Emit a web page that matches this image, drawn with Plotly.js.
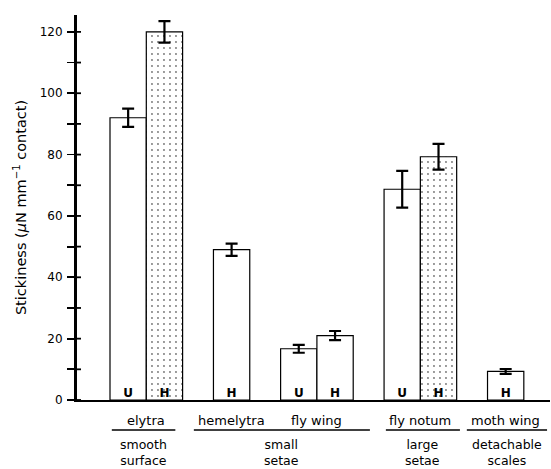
<!DOCTYPE html>
<html><head><meta charset="utf-8">
<script src="https://cdn.plot.ly/plotly-3.0.1.min.js"></script>
<style>html,body{margin:0;padding:0;background:#fff}</style>
</head><body><div id="chart" style="width:551px;height:469px"></div>
<script>
// ---- data ----
const barGroups = ["elytra", "hemelytra", "fly wing", "fly notum", "moth wing"];
const barTypes = ["U", "H", "H", "U", "H", "U", "H", "H"];
const barGroupOf = [0, 0, 1, 2, 2, 3, 3, 4];
const stickiness = [92, 120, 49, 16.7, 21, 68.7, 79.3, 9.3];
const stickinessErr = [3, 3.5, 2, 1.3, 1.5, 6, 4.2, 0.8];
const surfaceClasses = ["smooth<br>surface", "small<br>setae", "large<br>setae", "detachable<br>scales"];
const classMembers = [[0], [1, 2], [3], [4]];
const yTicks = [0, 20, 40, 60, 80, 100, 120];
const yMinorTicks = [10, 30, 50, 70, 90, 110];

// ---- layout helpers ----
const GAP = 0.85;
const xs = [];
const groupLeft = [], groupRight = [];
let pos = 0, prev = -1;
barGroupOf.forEach((g, i) => {
  if (prev !== -1 && g !== prev) pos += GAP;
  if (groupLeft[g] === undefined) groupLeft[g] = pos;
  xs.push(pos + 0.5);
  pos += 1;
  groupRight[g] = pos;
  prev = g;
});

const PLOT_TOP = 15, PLOT_BOTTOM = 400, PH = PLOT_BOTTOM - PLOT_TOP;
const py = p => -(p - PLOT_BOTTOM) / PH; // pixel below axis -> paper y

const font = "DejaVu Sans, Liberation Sans, sans-serif";
const stippled = [false, true, false, false, false, false, true, false];

const bars = {
  type: "bar",
  x: xs,
  y: stickiness,
  width: 1,
  marker: {
    color: "white",
    line: {color: "black", width: 1.2},
    pattern: {
      shape: stippled.map(s => s ? "." : ""),
      fgcolor: "#777",
      bgcolor: "white",
      size: 6,
      solidity: 0.08
    }
  },
  error_y: {type: "data", array: stickinessErr, visible: true, color: "black", thickness: 2.2, width: 6},
  hoverinfo: "skip",
  showlegend: false
};

const letters = {
  type: "scatter",
  mode: "text",
  x: xs,
  y: barTypes.map(() => 0),
  text: barTypes,
  textposition: "top center",
  textfont: {family: font, size: 12, color: "black", weight: "bold"},
  hoverinfo: "skip",
  showlegend: false
};

const annotations = [];
// bar group names
barGroups.forEach((name, g) => {
  annotations.push({x: (groupLeft[g] + groupRight[g]) / 2, y: py(420), xref: "x", yref: "paper",
    text: name, showarrow: false, yanchor: "middle", font: {family: font, size: 13, color: "black"}});
});
// class names with underlines
const linePads = [[-0.05, -0.2], [0.54, 0.46], [-0.05, 0.09], [0.57, 0.64]];
const shapes = [];
classMembers.forEach((members, c) => {
  const l = groupLeft[members[0]] - linePads[c][0];
  const r = groupRight[members[members.length - 1]] + linePads[c][1];
  shapes.push({type: "line", xref: "x", yref: "paper", x0: l, x1: r, y0: py(430), y1: py(430),
    line: {color: "black", width: 1.6}});
  annotations.push({x: (l + r) / 2, y: py(434.5), xref: "x", yref: "paper", text: surfaceClasses[c],
    showarrow: false, yanchor: "top", font: {family: font, size: 12.5, color: "black"}});
});
// tick marks crossing the y axis (inner half)
yTicks.concat(yMinorTicks).forEach(v => {
  shapes.push({type: "line", xref: "paper", xsizemode: "pixel", xanchor: 0, x0: 0, x1: 4,
    yref: "y", y0: v, y1: v, line: {color: "black", width: 1.8}});
});

const xLeftPx = 77, xRightPx = 550, barStartPx = 110, unitPx = 36.3;
const layout = {
  width: 551, height: 469,
  margin: {l: xLeftPx, r: 551 - xRightPx, t: PLOT_TOP, b: 469 - PLOT_BOTTOM, pad: 0},
  paper_bgcolor: "white", plot_bgcolor: "white",
  font: {family: font, color: "black"},
  bargap: 0,
  xaxis: {
    range: [(xLeftPx - barStartPx) / unitPx, (xRightPx - barStartPx) / unitPx],
    showline: true, linecolor: "black", linewidth: 2,
    showgrid: false, zeroline: false, ticks: "", showticklabels: false, fixedrange: true
  },
  yaxis: {
    range: [0, 125.5],
    tickvals: yTicks, ticktext: yTicks.map(String),
    ticks: "outside", ticklen: 7, tickwidth: 1.8, tickcolor: "black",
    minor: {tickvals: yMinorTicks, ticks: "outside", ticklen: 7, tickwidth: 1.8, tickcolor: "black"},
    showline: true, linecolor: "black", linewidth: 3,
    showgrid: false, zeroline: false,
    tickfont: {family: font, size: 12, color: "black"},
    ticklabelstandoff: 2,
    title: {text: "Stickiness (<i>μ</i>N mm<sup>−1</sup> contact)", font: {family: font, size: 14.5, color: "black"}, standoff: 10},
    fixedrange: true
  },
  annotations: annotations,
  shapes: shapes,
  showlegend: false
};

Plotly.newPlot("chart", [bars, letters], layout, {displayModeBar: false, staticPlot: true});
</script>
</body></html>
